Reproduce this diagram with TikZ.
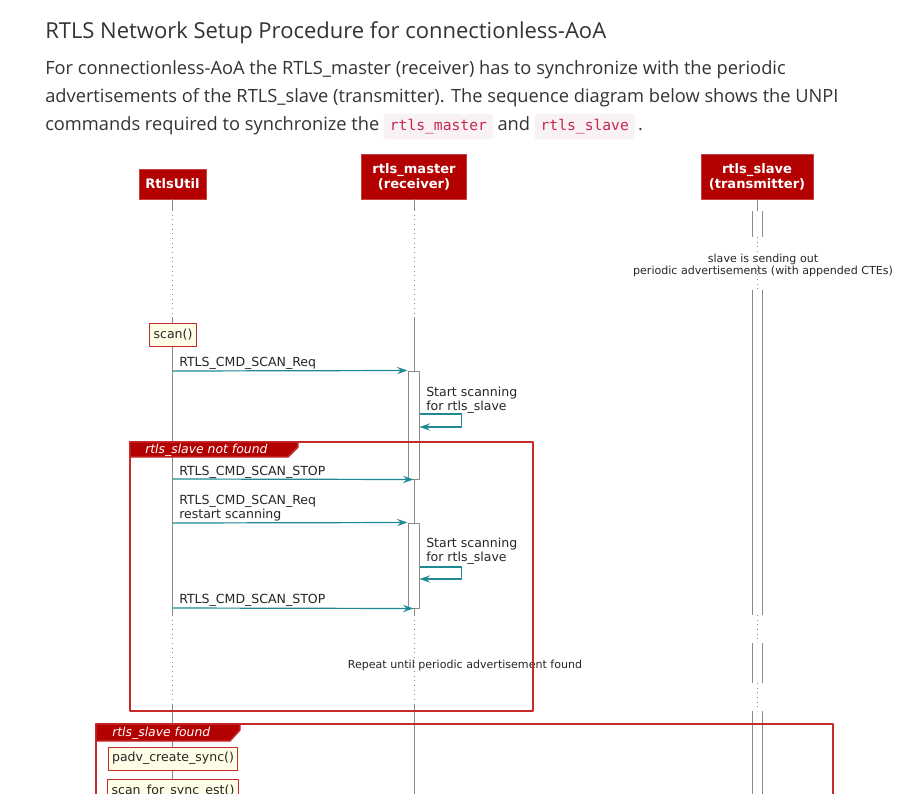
\documentclass[tikz,border=0pt]{standalone}
\usepackage{fontspec}
\setmainfont{Open Sans}
\newfontfamily\umlfont{DejaVu Sans}
\newfontfamily\codefont{DejaVu Sans Mono}
\usetikzlibrary{arrows.meta,calc,positioning}

\definecolor{pagetext}{HTML}{333333}
\definecolor{umlred}{HTML}{B30000}
\definecolor{framered}{HTML}{C62B2B}
\definecolor{notefill}{HTML}{FEFEE6}
\definecolor{msgteal}{HTML}{1F8A93}
\definecolor{lifegrey}{HTML}{8A8A8A}
\definecolor{codebg}{HTML}{F9F2F4}
\definecolor{codefg}{HTML}{C7254E}

\tikzset{
  heading/.style={font=\fontsize{16.5pt}{19pt}\selectfont, text=pagetext, inner sep=0pt},
  para/.style={font=\fontsize{13.7pt}{16pt}\selectfont, text=pagetext, inner sep=0pt},
  codebox/.style={fill=codebg, rounded corners=2pt, text=codefg,
    font=\codefont\fontsize{11pt}{13pt}\selectfont, inner xsep=4.5pt, inner ysep=4pt},
  party/.style={fill=umlred, draw=umlred!75!white, line width=0.6pt, text=white,
    font=\umlfont\bfseries\fontsize{9.8pt}{11.25pt}\selectfont, align=center, inner sep=0pt},
  life/.style={draw=lifegrey, line width=0.75pt},
  lifedot/.style={draw=lifegrey, line width=0.7pt, dash pattern=on 0.7pt off 2.8pt},
  actbox/.style={draw=lifegrey, fill=white, line width=0.75pt, minimum width=8.25pt, inner sep=0pt},
  msg/.style={draw=msgteal, line width=0.9pt, -{Stealth[length=8pt,width=5.5pt,inset=3pt]}},
  msglabel/.style={font=\umlfont\fontsize{9.4pt}{10.5pt}\selectfont, text=black!85, inner sep=0pt, align=left},
  smalltext/.style={font=\umlfont\fontsize{8.3pt}{9pt}\selectfont, text=black!85, inner sep=0pt, align=center},
  note/.style={draw=framered, fill=notefill, line width=0.75pt,
    font=\umlfont\fontsize{9.4pt}{10.5pt}\selectfont, text=black!85, inner xsep=3pt,
    inner ysep=0pt, minimum height=17.25pt},
  frame/.style={draw=framered, line width=1.1pt},
  tab/.style={fill=umlred, draw=framered, line width=1.1pt},
  tablabel/.style={font=\umlfont\itshape\fontsize{9.3pt}{10pt}\selectfont, text=white, inner sep=0pt}
}

\begin{document}
\begin{tikzpicture}[x=0.75pt,y=-0.75pt, line join=round]
  \useasboundingbox (0,0) rectangle (907,793);
  \fill[white] (0,0) rectangle (907,793);
  \clip (0,0) rectangle (907,793);

  % Page text above the diagram.
  \node[heading, anchor=base west] (title) at (45,38) {RTLS Network Setup Procedure for connectionless-AoA};
  \node[para, anchor=base west] (line1) at (45,74) {For connectionless-AoA the RTLS\_master (receiver) has to synchronize with the periodic};
  \node[para, anchor=base west] (line2) at (45,102) {advertisements of the RTLS\_slave (transmitter). The sequence diagram below shows the UNPI};
  \node[para, anchor=base west] (line3) at (45,130.5) {commands required to synchronize the};
  \node[codebox, anchor=base west, xshift=3pt] (codemaster) at (line3.base east) {rtls\_master};
  \node[para, anchor=base west, xshift=3pt] (andword) at (codemaster.base east) {and};
  \node[codebox, anchor=base west, xshift=3pt] (codeslave) at (andword.base east) {rtls\_slave};
  \node[para, anchor=base west, xshift=2pt] (fullstop) at (codeslave.base east) {.};

  % Participants.
  \node[party, minimum width=50.25pt, minimum height=22.5pt] (util) at (172.5,184) {RtlsUtil};
  \node[party, minimum width=78.75pt, minimum height=33.75pt] (master) at (414,176.5) {rtls\_master\\(receiver)};
  \node[party, minimum width=84pt, minimum height=33.75pt] (slave) at (757,176.5) {rtls\_slave\\(transmitter)};

  % Lifelines of RtlsUtil and rtls_master.
  \foreach \p in {util,master} {
    \draw[life] (\p.south) -- (\p.south |- 0,210);
    \draw[lifedot] (\p.south |- 0,210) -- (\p.south |- 0,318);
    \draw[life] (\p.south |- 0,318) -- (\p.south |- 0,615);
    \draw[lifedot] (\p.south |- 0,615) -- (\p.south |- 0,705);
    \draw[life] (\p.south |- 0,705) -- (\p.south |- 0,800);
  }
  % Lifeline of rtls_slave: always active.
  \draw[life] (slave.south) -- (slave.south |- 0,211);
  \foreach \a/\b in {211/237,290/615,643/683,711/800} {
    \draw[life] (752,\a) -- (752,\b);
    \draw[life] (762,\a) -- (762,\b);
  }
  \foreach \a/\b in {237/290,615/643,683/711}
    \draw[lifedot] (757,\a) -- (757,\b);
  \node[smalltext, anchor=base] (sending) at (763,274) {slave is sending out\\periodic advertisements (with appended CTEs)};

  % Activations of rtls_master.
  \node[actbox, minimum height=81pt] (act1) at (413.5,425) {};
  \node[actbox, minimum height=63.75pt] (act2) at (413.5,565.5) {};

  % Start scanning.
  \node[note, anchor=north] (scan) at (173,323) {scan()};
  \coordinate (req1) at (util.south |- 0,371);
  \draw[msg] (req1) -- (act1.north west);
  \node[msglabel, anchor=base west] (req1lbl) at (179,366) {RTLS\_CMD\_SCAN\_Req};
  \draw[msg] (act1.east |- 0,414) -- ++(42,0) -- ++(0,13) -- (act1.east |- 0,427);
  \node[msglabel, anchor=base west] (self1lbl) at (426,410) {Start scanning\\for rtls\_slave};

  % Loop: slave not found.
  \coordinate (stop1) at (util.south |- 0,479);
  \draw[msg] (stop1) -- (act1.south);
  \node[msglabel, anchor=base west] (stop1lbl) at (179,475) {RTLS\_CMD\_SCAN\_STOP};
  \coordinate (req2) at (util.south |- 0,523);
  \draw[msg] (req2) -- (act2.north west);
  \node[msglabel, anchor=base west] (req2lbl) at (179,518) {RTLS\_CMD\_SCAN\_Req\\restart scanning};
  \draw[msg] (act2.east |- 0,567) -- ++(42,0) -- ++(0,12) -- (act2.east |- 0,579);
  \node[msglabel, anchor=base west] (self2lbl) at (426,561) {Start scanning\\for rtls\_slave};
  \coordinate (stop2) at (util.south |- 0,608);
  \draw[msg] (stop2) -- (act2.south);
  \node[msglabel, anchor=base west] (stop2lbl) at (179,603) {RTLS\_CMD\_SCAN\_STOP};
  \node[smalltext, anchor=base] (repeat) at (465,668) {Repeat until periodic advertisement found};

  \draw[frame] (130,442) rectangle (533,711);
  \filldraw[tab] (130,442) -- (298,442) -- (298,447) -- (288,457) -- (130,457) -- cycle;
  \node[tablabel, anchor=west] (notfound) at (145,450) {rtls\_slave not found};

  % Slave found.
  \draw[frame] (96,724) rectangle (833,830);
  \filldraw[tab] (96,724) -- (240,724) -- (240,730) -- (230,741) -- (96,741) -- cycle;
  \node[tablabel, anchor=west] (found) at (112,733) {rtls\_slave found};
  \node[note, anchor=north] (createsync) at (173,746.5) {padv\_create\_sync()};
  \node[note, anchor=north] (syncest) at (173,779) {scan\_for\_sync\_est()};
\end{tikzpicture}
\end{document}
